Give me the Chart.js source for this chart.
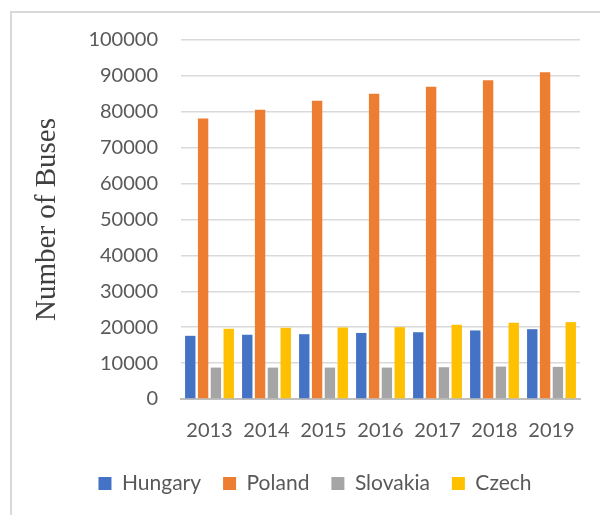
<!DOCTYPE html>
<html>
<head>
<meta charset="utf-8">
<script src="https://cdn.jsdelivr.net/npm/chart.js@4.4.0/dist/chart.umd.min.js"></script>
<style>
    body { margin: 0; background: #ffffff; }
    #wrap { position: relative; width: 600px; height: 515px; overflow: hidden; }
    #frame {
        position: absolute; left: 10px; top: 11px; width: 620px; height: 520px;
        border-top: 2px solid #d9d9d9; border-left: 2px solid #d9d9d9;
    }
    #chart { position: absolute; left: 0; top: 0; }
</style>
</head>
<body>
<div id="wrap">
    <div id="frame"></div>
    <canvas id="chart" width="600" height="515"></canvas>
</div>
<script>
// years on the x axis
const years = ['2013', '2014', '2015', '2016', '2017', '2018', '2019'];

// bus fleet per country
const hungary  = [17600, 17900, 18050, 18400, 18600, 19100, 19450];
const poland   = [78150, 80600, 83100, 85000, 87000, 88800, 91000];
const slovakia = [8750, 8750, 8750, 8750, 8850, 9030, 8950];
const czech    = [19560, 19840, 19930, 20010, 20680, 21240, 21410];

const tickFont = { family: 'Lato', size: 20 };
const textGray = '#595959';

const ctx = document.getElementById('chart');

ctx.chart = new Chart(ctx, {
    type: 'bar',
    data: {
        labels: years,
        datasets: [
            { label: 'Hungary',  data: hungary,  backgroundColor: '#4472c4' },
            { label: 'Poland',   data: poland,   backgroundColor: '#ed7d31' },
            { label: 'Slovakia', data: slovakia, backgroundColor: '#a5a5a5' },
            { label: 'Czech',    data: czech,    backgroundColor: '#ffc000' }
        ]
    },
    options: {
        responsive: false,
        animation: false,
        datasets: {
            bar: { categoryPercentage: 0.9, barPercentage: 0.81 }
        },
        layout: {
            padding: { left: 50, right: 20, top: 40, bottom: 11 }
        },
        scales: {
            x: {
                grid: { display: false, drawTicks: false },
                border: { display: true, color: '#bfbfbf', width: 2 },
                ticks: { font: tickFont, color: textGray, padding: 20, maxRotation: 0 },
                afterFit: scale => { scale.height = 52; }
            },
            y: {
                min: 0,
                max: 100000,
                grid: { color: '#d9d9d9', lineWidth: 1.5, drawTicks: false },
                border: { display: false },
                ticks: {
                    stepSize: 10000,
                    font: tickFont,
                    color: textGray,
                    padding: 23,
                    callback: value => String(value)   // no thousands separator
                },
                title: {
                    display: true,
                    text: 'Number of Buses',
                    font: { family: 'Liberation Serif', size: 29 },
                    color: '#404040',
                    padding: { top: -20, bottom: 0 }
                },
                afterFit: scale => { scale.width = 131; }
            }
        },
        plugins: {
            legend: {
                position: 'bottom',
                labels: {
                    boxWidth: 13,
                    boxHeight: 13,
                    padding: 22,
                    font: { family: 'Lato', size: 21 },
                    color: textGray
                }
            },
            tooltip: { enabled: false }
        }
    }
});
</script>
</body>
</html>
